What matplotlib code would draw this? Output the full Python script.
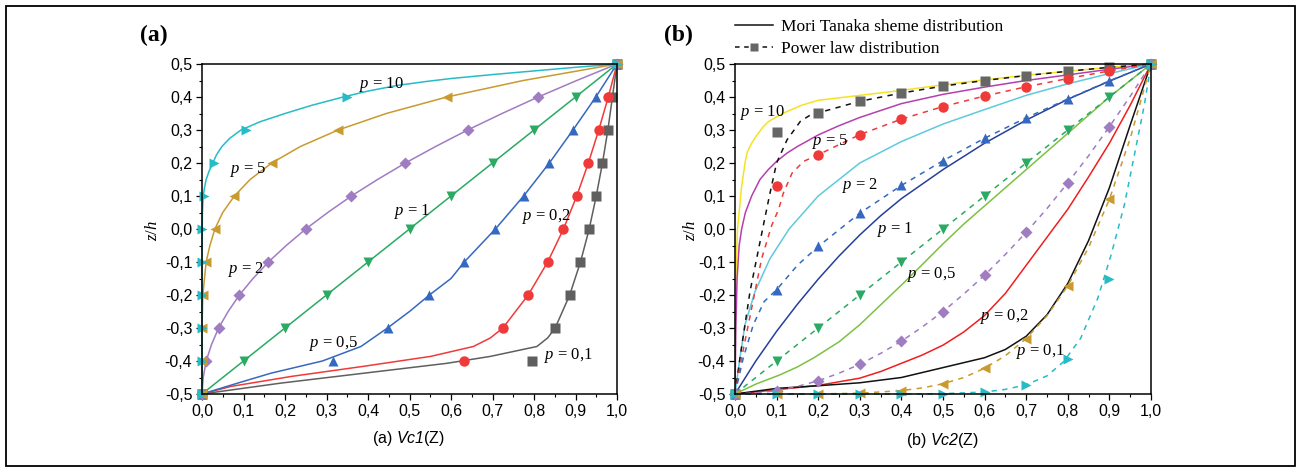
import numpy as np
import matplotlib
matplotlib.use('Agg')
from matplotlib import pyplot as plt
from matplotlib.lines import Line2D
from matplotlib.patches import Rectangle
from matplotlib.ticker import FixedLocator, FuncFormatter

plt.rcParams['font.family'] = ['Liberation Sans', 'DejaVu Sans']
plt.rcParams['mathtext.fontset'] = 'custom'
plt.rcParams['mathtext.rm'] = 'Liberation Serif'
plt.rcParams['mathtext.it'] = 'Liberation Serif:italic'
plt.rcParams['mathtext.cal'] = 'Liberation Sans:italic'

# ---------------- panel (a) data : V (x) against z/h (y) ----------------
za = [-0.5, -0.4, -0.3, -0.2, -0.1, 0.0, 0.1, 0.2, 0.3, 0.4, 0.5]
a_mk_p10 = [0, 0, 0, 0, 0, 0.001, 0.006, 0.028, 0.107, 0.349, 1.0]
a_mk_p5 = [0, 0, 0, 0.002, 0.01, 0.031, 0.078, 0.168, 0.328, 0.59, 1.0]
a_mk_p2 = [0, 0.01, 0.04, 0.09, 0.16, 0.25, 0.36, 0.49, 0.64, 0.81, 1.0]
a_mk_p1 = [0, 0.1, 0.2, 0.3, 0.4, 0.5, 0.6, 0.7, 0.8, 0.9, 1.0]
a_mk_p05 = [0, 0.316, 0.447, 0.548, 0.632, 0.707, 0.775, 0.837, 0.894, 0.949, 1.0]
a_mk_p02 = [0, 0.631, 0.725, 0.786, 0.833, 0.871, 0.903, 0.931, 0.956, 0.979, 1.0]
a_mk_p01 = [0, 0.794, 0.851, 0.886, 0.912, 0.933, 0.95, 0.965, 0.978, 0.989, 1.0]

a_ln_p10_v = [0, 0, 0.0005, 0.001, 0.003, 0.006, 0.01, 0.017, 0.026, 0.035, 0.048, 0.067, 0.094, 0.14, 0.2, 0.265, 0.34, 0.4, 0.47, 0.54, 0.6, 0.7, 0.8, 0.9, 1.0]
a_ln_p10_z = [-0.5, -0.1, 0.0, 0.05, 0.1, 0.125, 0.15, 0.175, 0.2, 0.225, 0.25, 0.275, 0.3, 0.325, 0.35, 0.375, 0.4, 0.418, 0.435, 0.447, 0.456, 0.468, 0.479, 0.49, 0.5]
a_ln_p5_v = [0, 0, 0.002, 0.01, 0.019, 0.031, 0.05, 0.078, 0.116, 0.168, 0.237, 0.328, 0.444, 0.59, 0.774, 1.0]
a_ln_p5_z = [-0.5, -0.3, -0.2, -0.1, -0.05, 0.0, 0.05, 0.1, 0.15, 0.2, 0.25, 0.3, 0.35, 0.4, 0.45, 0.5]
a_ln_p2_v = [0, 0.003, 0.01, 0.023, 0.04, 0.063, 0.09, 0.123, 0.16, 0.203, 0.25, 0.303, 0.36, 0.423, 0.49, 0.563, 0.64, 0.723, 0.81, 0.903, 1.0]
a_ln_p2_z = [-0.5, -0.45, -0.4, -0.35, -0.3, -0.25, -0.2, -0.15, -0.1, -0.05, 0.0, 0.05, 0.1, 0.15, 0.2, 0.25, 0.3, 0.35, 0.4, 0.45, 0.5]
a_ln_p1_v = [0, 1.0]
a_ln_p1_z = [-0.5, 0.5]
a_ln_p05_v = [0, 0.086, 0.166, 0.29, 0.383, 0.447, 0.5, 0.548, 0.6, 0.632, 0.707, 0.775, 0.837, 0.894, 0.949, 1.0]
a_ln_p05_z = [-0.5, -0.467, -0.437, -0.4, -0.356, -0.3, -0.25, -0.2, -0.15, -0.1, 0.0, 0.1, 0.2, 0.3, 0.4, 0.5]
a_ln_p02_v = [0, 0.07, 0.214, 0.39, 0.551, 0.654, 0.695, 0.725, 0.786, 0.833, 0.871, 0.903, 0.931, 0.956, 0.979, 1.0]
a_ln_p02_z = [-0.5, -0.477, -0.447, -0.416, -0.386, -0.356, -0.33, -0.3, -0.2, -0.1, 0.0, 0.1, 0.2, 0.3, 0.4, 0.5]
a_ln_p01_v = [0, 0.19, 0.39, 0.59, 0.695, 0.807, 0.833, 0.851, 0.886, 0.912, 0.933, 0.95, 0.965, 0.978, 0.989, 1.0]
a_ln_p01_z = [-0.5, -0.467, -0.437, -0.407, -0.386, -0.356, -0.33, -0.3, -0.2, -0.1, 0.0, 0.1, 0.2, 0.3, 0.4, 0.5]

# ---------------- panel (b) data : V (x) against z/h (y) ----------------
# Mori Tanaka (solid)
b_mt10_v = [0, 0.001, 0.003, 0.006, 0.01, 0.015, 0.024, 0.03, 0.04, 0.05, 0.068, 0.08, 0.1, 0.125, 0.16, 0.2, 0.3, 0.4, 0.5, 0.6, 0.7, 0.8, 0.9, 1.0]
b_mt10_z = [-0.5, -0.3, -0.1, 0.0, 0.05, 0.12, 0.2, 0.235, 0.26, 0.28, 0.31, 0.325, 0.34, 0.356, 0.375, 0.39, 0.405, 0.42, 0.437, 0.452, 0.466, 0.478, 0.49, 0.5]
b_mt5_v = [0, 0.002, 0.005, 0.01, 0.016, 0.025, 0.04, 0.06, 0.08, 0.1, 0.125, 0.15, 0.2, 0.25, 0.3, 0.4, 0.5, 0.6, 0.7, 0.8, 0.9, 1.0]
b_mt5_z = [-0.5, -0.3, -0.15, -0.05, 0.0, 0.05, 0.1, 0.15, 0.18, 0.205, 0.23, 0.25, 0.285, 0.313, 0.338, 0.38, 0.408, 0.43, 0.45, 0.467, 0.484, 0.5]
b_mt2_v = [0, 0.012, 0.024, 0.048, 0.084, 0.13, 0.2, 0.3, 0.4, 0.5, 0.6, 0.7, 0.8, 0.9, 1.0]
b_mt2_z = [-0.5, -0.39, -0.29, -0.19, -0.09, 0.0, 0.1, 0.2, 0.265, 0.318, 0.362, 0.405, 0.44, 0.471, 0.5]
b_mt1_v = [0, 0.05, 0.1, 0.15, 0.2, 0.25, 0.3, 0.35, 0.4, 0.5, 0.6, 0.7, 0.8, 0.9, 1.0]
b_mt1_z = [-0.5, -0.4, -0.31, -0.228, -0.152, -0.082, -0.018, 0.04, 0.092, 0.18, 0.26, 0.33, 0.393, 0.448, 0.5]
b_mt05_v = [0, 0.05, 0.108, 0.15, 0.19, 0.25, 0.3, 0.35, 0.4, 0.45, 0.5, 0.55, 0.6, 0.7, 0.8, 0.9, 1.0]
b_mt05_z = [-0.5, -0.47, -0.442, -0.418, -0.39, -0.342, -0.29, -0.23, -0.17, -0.108, -0.045, 0.015, 0.07, 0.18, 0.29, 0.4, 0.5]
b_mt02_v = [0, 0.1, 0.2, 0.3, 0.35, 0.4, 0.45, 0.5, 0.55, 0.6, 0.65, 0.7, 0.75, 0.8, 0.85, 0.9, 0.95, 1.0]
b_mt02_z = [-0.5, -0.487, -0.474, -0.452, -0.432, -0.407, -0.382, -0.352, -0.312, -0.262, -0.195, -0.11, -0.025, 0.06, 0.158, 0.26, 0.375, 0.5]
b_mt01_v = [0, 0.1, 0.2, 0.3, 0.4, 0.5, 0.6, 0.65, 0.7, 0.75, 0.8, 0.85, 0.9, 0.95, 1.0]
b_mt01_z = [-0.5, -0.483, -0.475, -0.466, -0.45, -0.42, -0.39, -0.365, -0.325, -0.26, -0.165, -0.035, 0.125, 0.315, 0.5]

# power law (dashed, with markers)
b_pl10_v = [0, 0.012, 0.024, 0.036, 0.052, 0.068, 0.084, 0.1, 0.125, 0.157, 0.178, 0.2, 0.3, 0.4, 0.5, 0.6, 0.7, 0.8, 0.9, 1.0]
b_pl10_z = [-0.5, -0.39, -0.29, -0.19, -0.09, 0.01, 0.108, 0.2, 0.27, 0.326, 0.343, 0.352, 0.387, 0.412, 0.433, 0.45, 0.465, 0.478, 0.49, 0.5]
b_pl5_v = [0, 0.016, 0.032, 0.048, 0.064, 0.088, 0.105, 0.116, 0.137, 0.165, 0.2, 0.3, 0.4, 0.5, 0.6, 0.7, 0.8, 0.9, 1.0]
b_pl5_z = [-0.5, -0.39, -0.29, -0.19, -0.09, 0.01, 0.06, 0.108, 0.169, 0.205, 0.225, 0.286, 0.333, 0.371, 0.403, 0.431, 0.456, 0.479, 0.5]
b_pl2_v = [0, 0.02, 0.044, 0.07, 0.1, 0.15, 0.2, 0.3, 0.4, 0.5, 0.6, 0.7, 0.8, 0.9, 1.0]
b_pl2_z = [-0.5, -0.39, -0.29, -0.22, -0.184, -0.11, -0.053, 0.048, 0.132, 0.207, 0.275, 0.337, 0.394, 0.449, 0.5]
b_pl1_v = [0, 1.0]
b_pl1_z = [-0.5, 0.5]
b_pl05_v = [0, 0.05, 0.1, 0.15, 0.2, 0.25, 0.3, 0.35, 0.4, 0.45, 0.5, 0.55, 0.6, 0.65, 0.7, 0.75, 0.8, 0.85, 0.9, 0.95, 1.0]
b_pl05_z = [-0.5, -0.497, -0.49, -0.477, -0.46, -0.437, -0.41, -0.377, -0.34, -0.297, -0.25, -0.197, -0.14, -0.077, -0.01, 0.062, 0.14, 0.222, 0.31, 0.402, 0.5]
b_pl02_v = [0, 0.1, 0.2, 0.3, 0.4, 0.45, 0.5, 0.55, 0.6, 0.65, 0.7, 0.75, 0.8, 0.85, 0.9, 0.95, 1.0]
b_pl02_z = [-0.5, -0.5, -0.4997, -0.4976, -0.4898, -0.4816, -0.469, -0.45, -0.422, -0.384, -0.332, -0.263, -0.172, -0.056, 0.09, 0.274, 0.5]
b_pl01_v = [0, 0.1, 0.2, 0.3, 0.4, 0.5, 0.6, 0.65, 0.7, 0.75, 0.79, 0.831, 0.872, 0.904, 0.936, 0.96, 0.984, 1.0]
b_pl01_z = [-0.5, -0.5, -0.5, -0.5, -0.5, -0.499, -0.494, -0.486, -0.472, -0.445, -0.402, -0.331, -0.21, -0.079, 0.073, 0.224, 0.376, 0.5]

vb = [0, 0.1, 0.2, 0.3, 0.4, 0.5, 0.6, 0.7, 0.8, 0.9, 1.0]
b_mk_p10 = [-0.5, 0.294, 0.351, 0.387, 0.412, 0.433, 0.45, 0.465, 0.478, 0.49, 0.5]
b_mk_p5 = [-0.5, 0.131, 0.225, 0.286, 0.333, 0.371, 0.403, 0.431, 0.456, 0.479, 0.5]
b_mk_p2 = [-0.5, -0.184, -0.053, 0.048, 0.132, 0.207, 0.275, 0.337, 0.394, 0.449, 0.5]
b_mk_p1 = [-0.5, -0.4, -0.3, -0.2, -0.1, 0.0, 0.1, 0.2, 0.3, 0.4, 0.5]
b_mk_p05 = [-0.5, -0.49, -0.46, -0.41, -0.34, -0.25, -0.14, -0.01, 0.14, 0.31, 0.5]
b_mk_p02 = [-0.5, -0.5, -0.4997, -0.4976, -0.4898, -0.469, -0.422, -0.332, -0.172, 0.09, 0.5]
b_mk_p01 = [-0.5, -0.5, -0.5, -0.5, -0.5, -0.499, -0.494, -0.472, -0.393, -0.151, 0.5]

labels_a = ['p = 10', 'p = 5', 'p = 2', 'p = 1', 'p = 0,5', 'p = 0,2', 'p = 0,1']
labels_a_pos = [(0.378, 0.437), (0.068, 0.18), (0.062, -0.122), (0.462, 0.052), (0.257, -0.346), (0.771, 0.037), (0.823, -0.384)]
labels_b = labels_a
labels_b_pos = [(0.012, 0.352), (0.185, 0.265), (0.257, 0.133), (0.341, -0.003), (0.414, -0.139), (0.59, -0.266), (0.675, -0.372)]

c_cyan = '#26bcc6'
c_gold = '#c99a2e'
c_purple = '#a07cc2'
c_green = '#2aaa62'
c_blue = '#3569c0'
c_red = '#f03a3a'
c_gray = '#5f5f5f'

W, H = 1298, 468
fig = plt.figure(figsize=(W / 100, H / 100), dpi=100)


def fmt(v, pos):
    return '{:.1f}'.format(round(v, 1) + 0.0).replace('.', ',')


def setup(ax):
    ax.set_xlim(0, 1.0)
    ax.set_ylim(-0.5, 0.5)
    ticks = [round(-0.5 + 0.1 * i, 1) for i in range(11)]
    ax.yaxis.set_major_locator(FixedLocator(ticks))
    ax.xaxis.set_major_locator(FixedLocator([round(0.1 * i, 1) for i in range(11)]))
    ax.yaxis.set_minor_locator(FixedLocator([round(-0.45 + 0.1 * i, 2) for i in range(10)]))
    ax.xaxis.set_minor_locator(FixedLocator([round(0.05 + 0.1 * i, 2) for i in range(10)]))
    ax.xaxis.set_major_formatter(FuncFormatter(fmt))
    ax.yaxis.set_major_formatter(FuncFormatter(fmt))
    ax.tick_params(which='major', direction='out', length=4, width=0.9, labelsize=11.5, pad=3)
    ax.tick_params(which='minor', direction='out', length=2.2, width=0.8)
    for s in ax.spines.values():
        s.set_linewidth(1.1)


def px_axes(x0, x1, y0, y1):
    return fig.add_axes([x0 / W, 1 - y1 / H, (x1 - x0) / W, (y1 - y0) / H])


# panel (a)
ax1 = px_axes(202, 617, 64, 394)
setup(ax1)
a_lines = [
    (a_ln_p01_v, a_ln_p01_z, a_mk_p01, c_gray, 's'),
    (a_ln_p02_v, a_ln_p02_z, a_mk_p02, c_red, 'o'),
    (a_ln_p05_v, a_ln_p05_z, a_mk_p05, c_blue, '^'),
    (a_ln_p1_v, a_ln_p1_z, a_mk_p1, c_green, 'v'),
    (a_ln_p2_v, a_ln_p2_z, a_mk_p2, c_purple, 'D'),
    (a_ln_p5_v, a_ln_p5_z, a_mk_p5, c_gold, '<'),
    (a_ln_p10_v, a_ln_p10_z, a_mk_p10, c_cyan, '>'),
]
for lv, lz, mk, col, m in a_lines:
    ax1.plot(lv, lz, color=col, lw=1.1, clip_on=False)
    ms = 6 if m == 'D' else 7.5
    ax1.plot(mk, za, ls='none', marker=m, color=col, ms=ms, mec='none', clip_on=False)
for txt, (x, y) in zip(labels_a, labels_a_pos):
    ax1.text(x, y, '$p$' + txt[1:], fontsize=12, family='Liberation Serif', va='center', ha='left')

# panel (b)
ax2 = px_axes(735, 1151, 64, 394)
setup(ax2)
b_solid = [
    (b_mt10_v, b_mt10_z, '#f2e422'),
    (b_mt5_v, b_mt5_z, '#b53fae'),
    (b_mt2_v, b_mt2_z, '#5fc9dd'),
    (b_mt1_v, b_mt1_z, '#263f9a'),
    (b_mt05_v, b_mt05_z, '#7cc143'),
    (b_mt02_v, b_mt02_z, '#f01e1e'),
    (b_mt01_v, b_mt01_z, '#111111'),
]
for lv, lz, col in b_solid:
    ax2.plot(lv, lz, color=col, lw=1.1)

b_dash = [
    (b_pl10_v, b_pl10_z, b_mk_p10, '#111111', '#666666', 's'),
    (b_pl5_v, b_pl5_z, b_mk_p5, c_red, c_red, 'o'),
    (b_pl2_v, b_pl2_z, b_mk_p2, c_blue, c_blue, '^'),
    (b_pl1_v, b_pl1_z, b_mk_p1, c_green, c_green, 'v'),
    (b_pl05_v, b_pl05_z, b_mk_p05, c_purple, c_purple, 'D'),
    (b_pl02_v, b_pl02_z, b_mk_p02, c_gold, c_gold, '<'),
    (b_pl01_v, b_pl01_z, b_mk_p01, c_cyan, c_cyan, '>'),
]
for lv, lz, mk, col, mcol, m in b_dash:
    ax2.plot(lv, lz, color=col, lw=1.1, ls=(0, (3.5, 3.5)), clip_on=False)
    ms = 6 if m == 'D' else 7.5
    ax2.plot(vb, mk, ls='none', marker=m, color=mcol, ms=ms, mec='none', clip_on=False)
for txt, (x, y) in zip(labels_b, labels_b_pos):
    ax2.text(x, y, '$p$' + txt[1:], fontsize=12, family='Liberation Serif', va='center', ha='left')

handles = [Line2D([], [], color='#111111', lw=1.1),
           Line2D([], [], color='#111111', lw=1.1, ls=(0, (3, 3)), marker='s', mfc='#666666', mec='none', ms=6)]
fig.legend(handles, ['Mori Tanaka sheme distribution', 'Power law distribution'],
           loc='upper left', bbox_to_anchor=(726 / W, 1 - 10 / H), frameon=False, borderpad=0,
           handlelength=2.2, handletextpad=0.45, labelspacing=0.35,
           prop={'family': 'Liberation Serif', 'size': 12.5})

# panel titles, axis labels
fig.text(140 / W, 1 - 35 / H, '(a)', fontsize=17, fontweight='bold', family='Liberation Serif', va='center', ha='left')
fig.text(664 / W, 1 - 35 / H, '(b)', fontsize=17, fontweight='bold', family='Liberation Serif', va='center', ha='left')
fig.text(152 / W, 1 - 231 / H, '$z/h$', fontsize=12, rotation=90, va='center', ha='center')
fig.text(690 / W, 1 - 231 / H, '$z/h$', fontsize=12, rotation=90, va='center', ha='center')
fig.text(409 / W, 1 - 439 / H, r'(a) $\mathcal{Vc1}$(Z)', fontsize=11.5, va='center', ha='center')
fig.text(943 / W, 1 - 440 / H, r'(b) $\mathcal{Vc2}$(Z)', fontsize=11.5, va='center', ha='center')

# outer frame
fig.add_artist(Rectangle((6 / W, 2 / H), 1289 / W, 460 / H, transform=fig.transFigure,
                         fill=False, lw=1.3, edgecolor='black'))

fig.savefig('out.png', dpi=100)
